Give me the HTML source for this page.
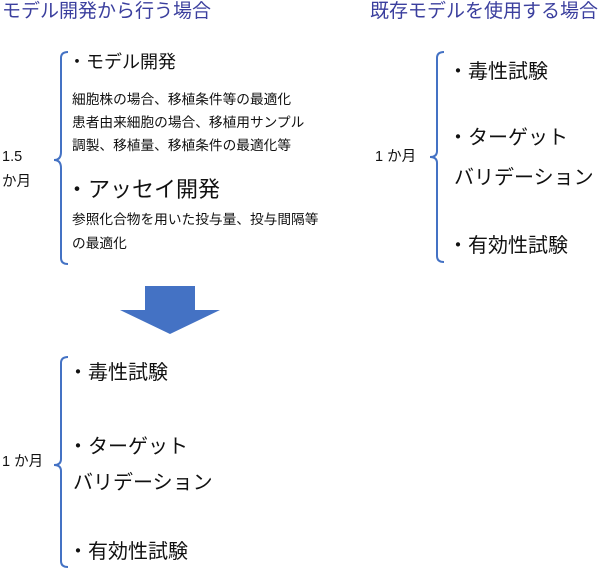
<!DOCTYPE html>
<html><head><meta charset="utf-8"><style>
body{margin:0;width:600px;height:570px;background:#fff;position:relative;overflow:hidden;font-family:"Liberation Sans","Noto Sans CJK JP",sans-serif;color:#111}
.t{position:absolute;white-space:nowrap;line-height:1}
.h{font-size:19px;color:#3b3f9e}
.b{font-size:20px}
.s{font-size:13.7px}
.m{font-size:14.5px}
</style></head><body>
<svg width="600" height="570" style="position:absolute;left:0;top:0">
<g fill="none" stroke="#4472c4" stroke-width="2">
<path d="M68 52 Q61 52 61 58 L61 152 Q61 160 54 160 Q61 160 61 168 L61 258 Q61 264 68 264"/>
<path d="M444 52 Q437 52 437 58 L437 151 Q437 157 430 157 Q437 157 437 163 L437 256 Q437 262 444 262"/>
<path d="M68 357 Q61 357 61 363 L61 459 Q61 465 54 465 Q61 465 61 471 L61 561 Q61 567 68 567"/>
</g>
<polygon points="145,286 195,286 195,310 220,310 170,334 120,310 145,310" fill="#4472c4"/>
</svg>
<div class="t h" style="left:2px;top:2px">モデル開発から行う場合</div>
<div class="t h" style="left:370px;top:2px">既存モデルを使用する場合</div>
<div class="t b" style="left:68px;top:53px;font-size:18px">・モデル開発</div>
<div class="t s" style="left:72px;top:93px">細胞株の場合、移植条件等の最適化</div>
<div class="t s" style="left:72px;top:116px">患者由来細胞の場合、移植用サンプル</div>
<div class="t s" style="left:72px;top:139px">調製、移植量、移植条件の最適化等</div>
<div class="t m" style="left:2px;top:150px">1.5</div>
<div class="t m" style="left:2px;top:175px">か月</div>
<div class="t b" style="left:66px;top:179px;font-size:22px">・アッセイ開発</div>
<div class="t s" style="left:72px;top:213px">参照化合物を用いた投与量、投与間隔等</div>
<div class="t s" style="left:72px;top:237px">の最適化</div>
<div class="t m" style="left:375px;top:150px">1 か月</div>
<div class="t b" style="left:448px;top:62px">・毒性試験</div>
<div class="t b" style="left:448px;top:128px">・ターゲット</div>
<div class="t b" style="left:454px;top:168px">バリデーション</div>
<div class="t b" style="left:448px;top:236px">・有効性試験</div>
<div class="t m" style="left:2px;top:455px">1 か月</div>
<div class="t b" style="left:68px;top:363px">・毒性試験</div>
<div class="t b" style="left:68px;top:437px">・ターゲット</div>
<div class="t b" style="left:73px;top:473px">バリデーション</div>
<div class="t b" style="left:68px;top:542px">・有効性試験</div>
</body></html>
